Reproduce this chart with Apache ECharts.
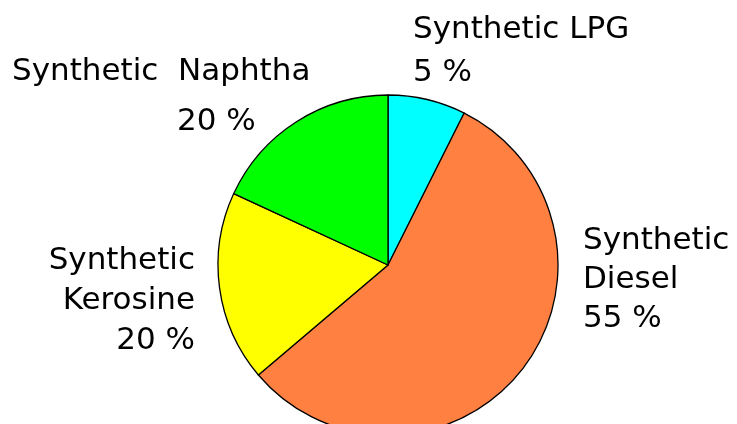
<!DOCTYPE html>
<html lang="en">
<head>
    <meta charset="UTF-8">
    <title>Synthetic fuel products</title>
</head>
<body style="margin:0;background:#fff;">
<div style="width: 737px;height: 424px;" id="pieChart"></div>
<script src="https://cdn.jsdelivr.net/npm/echarts@6/dist/echarts.min.js"></script>
<script type="text/javascript">
  // slices, clockwise from 12 o'clock
  let products = ['Synthetic LPG', 'Synthetic Diesel', 'Synthetic Kerosine', 'Synthetic Naphtha'];
  // share as drawn in the picture (slice angle)
  let shares = [7.4, 56.4, 18.1, 18.1];
  // share as printed in the labels
  let printedShares = ['5 %', '55 %', '20 %', '20 %'];
  let colors = ['#00FFFF', '#FF8040', '#FFFF00', '#00FF00'];

  // where each label block sits: left/right anchor, top, line height
  let labelPlace = [
    {x: 413, y: 8, align: 'left', lineHeight: 43},
    {x: 583, y: 221, align: 'left', lineHeight: 39},
    {x: 195, y: 241, align: 'right', lineHeight: 40},
    {x: 12, y: 47, align: 'left', lineHeight: 50},
  ];

  function labelText(i) {
    let name = products[i];
    let pct = printedShares[i];
    if (i === 0) {
      return '{t|' + name + '}\n{t|' + pct + '}';
    }
    if (i === 3) {
      // wide gap between the two words, percentage pushed right
      return '{t|Synthetic  Naphtha}\n{n|' + pct + '}';
    }
    let parts = name.split(' ');
    return '{t|' + parts[0] + '}\n{t|' + parts[1] + '}\n{t|' + pct + '}';
  }

  function createPie() {
    let data = products.map(function(name, i) {
      return {
        name: name,
        value: shares[i],
        itemStyle: {color: colors[i]},
        label: {lineHeight: labelPlace[i].lineHeight},
      };
    });

    let font = {
      fontFamily: 'DejaVu Sans',
      fontSize: 31,
      color: '#000',
    };

    let option = {
      backgroundColor: '#fff',
      animation: false,
      series: [
        {
          type: 'pie',
          center: [388, 265],
          radius: 170,
          startAngle: 90,
          clockwise: true,
          data: data,
          itemStyle: {
            borderColor: '#000',
            borderWidth: 1.3,
          },
          label: {
            show: true,
            position: 'outside',
            overflow: 'none',
            formatter: function(p) {
              return labelText(p.dataIndex);
            },
            rich: {
              t: Object.assign({}, font),
              n: Object.assign({padding: [0, 0, 0, 165]}, font),
            },
          },
          labelLine: {show: false},
          labelLayout: function(params) {
            let p = labelPlace[params.dataIndex];
            return {
              x: p.x,
              y: p.y,
              align: p.align,
              verticalAlign: 'top',
              hideOverlap: false,
              moveOverlap: false,
            };
          },
          emphasis: {disabled: true},
        }],
    };

    let instance = echarts.init(document.getElementById('pieChart'));
    instance.setOption(option);
  }

  createPie();
</script>
</body>
</html>
